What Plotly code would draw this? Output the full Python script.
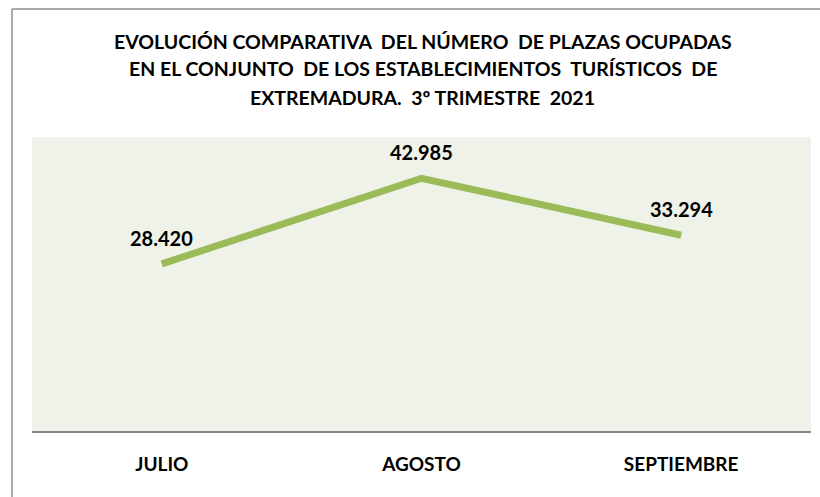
import plotly.graph_objects as go

categories = ["JULIO", "AGOSTO", "SEPTIEMBRE"]
values = [28420, 42985, 33294]
labels = ["28.420", "42.985", "33.294"]
title_lines = [
    "EVOLUCIÓN COMPARATIVA  DEL NÚMERO  DE PLAZAS OCUPADAS",
    "EN EL CONJUNTO  DE LOS ESTABLECIMIENTOS  TURÍSTICOS  DE",
    "EXTREMADURA.  3º TRIMESTRE  2021",
]

FONT = "Lato"

fig = go.Figure()
fig.add_trace(go.Scatter(
    x=categories, y=values, mode="lines",
    line=dict(color="#9BBB59", width=7),
    cliponaxis=False, hoverinfo="skip",
))

W, H = 820, 497
l, r, t, b = 32, 9, 137, 66
pw, ph = W - l - r, H - t - b

annotations = []
title_y = [42, 69, 98]
for txt, yy in zip(title_lines, title_y):
    annotations.append(dict(
        text=txt, xref="paper", yref="paper",
        x=(423 - l) / pw, y=(t + ph - yy) / ph,
        xanchor="center", yanchor="middle", showarrow=False,
        font=dict(family=FONT, size=19.5, color="#000000", weight="bold"),
    ))

for c, v, lab in zip(categories, values, labels):
    annotations.append(dict(
        text=lab, x=c, y=v, xref="x", yref="y",
        xanchor="center", yanchor="middle", yshift=26, showarrow=False,
        font=dict(family=FONT, size=20, color="#000000", weight="bold"),
    ))

fig.update_layout(
    width=W, height=H,
    margin=dict(l=l, r=r, t=t, b=b),
    paper_bgcolor="#FFFFFF",
    plot_bgcolor="#EEF2E8",
    showlegend=False,
    annotations=annotations,
    xaxis=dict(
        range=[-0.5, 2.5],
        showgrid=False, zeroline=False, showline=True,
        linecolor="#868686", linewidth=1.5,
        ticks="", ticklabelstandoff=15,
        tickfont=dict(family=FONT, size=19, color="#000000", weight="bold"),
    ),
    yaxis=dict(range=[0, 50000], visible=False),
)

# outer chart border: only left and top edges are visible in the window
bx0 = (12 - l) / pw
bx1 = (W + 10 - l) / pw
by_top = (t + ph - 9) / ph
by_bot = -(H + 10 - (t + ph)) / ph
border = dict(color="#8C8C8C", width=1.5)
fig.add_shape(type="line", xref="paper", yref="paper",
              x0=bx0, x1=bx1, y0=by_top, y1=by_top, line=border, layer="above")
fig.add_shape(type="line", xref="paper", yref="paper",
              x0=bx0, x1=bx0, y0=by_bot, y1=by_top, line=border, layer="above")

fig.write_html(
    "out.html",
    config={"displayModeBar": False},
    post_script="document.body.style.margin='0';document.body.style.overflow='hidden';",
)
